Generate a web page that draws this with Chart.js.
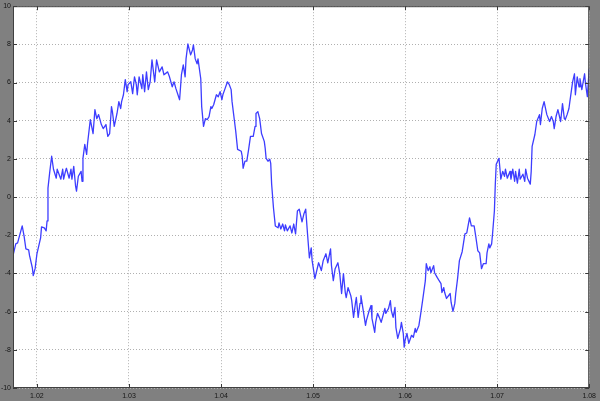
<!DOCTYPE html>
<html>
<head>
<meta charset="utf-8">
<script src="https://cdn.jsdelivr.net/npm/chart.js@4.4.0/dist/chart.umd.min.js"></script>
<style>
  html, body { margin: 0; padding: 0; background: #808080; }
  canvas { display: block; }
</style>
</head>
<body>
<canvas id="scope" width="600" height="401"></canvas>
<script>
// time (s) and signal samples
const time = [
  1.0174, 1.0177, 1.0179, 1.0184, 1.0186, 1.0188, 1.0191, 1.0192, 1.0195, 1.0196,
  1.0198, 1.0200, 1.0202, 1.0204, 1.0205, 1.0208, 1.0210, 1.0211, 1.0212, 1.0214,
  1.0216, 1.0218, 1.0221, 1.0222, 1.0224, 1.0226, 1.0228, 1.0229, 1.0231, 1.0232,
  1.0235, 1.0237, 1.0238, 1.0240, 1.0242, 1.0243, 1.0245, 1.0248, 1.0249, 1.0250,
  1.0252, 1.0254, 1.0255, 1.0258, 1.0261, 1.0263, 1.0265, 1.0267, 1.0270, 1.0272,
  1.0275, 1.0277, 1.0279, 1.0281, 1.0282, 1.0284, 1.0287, 1.0289, 1.0291, 1.0292,
  1.0294, 1.0296, 1.0298, 1.0299, 1.0302, 1.0304, 1.0306, 1.0308, 1.0309, 1.0311,
  1.0314, 1.0315, 1.0317, 1.0319, 1.0321, 1.0323, 1.0325, 1.0328, 1.0330, 1.0333,
  1.0336, 1.0338, 1.0342, 1.0344, 1.0347, 1.0349, 1.0351, 1.0355, 1.0357, 1.0359,
  1.0361, 1.0362, 1.0364, 1.0367, 1.0369, 1.0370, 1.0372, 1.0374, 1.0375, 1.0378,
  1.0379, 1.0381, 1.0383, 1.0385, 1.0387, 1.0389, 1.0390, 1.0392, 1.0395, 1.0397,
  1.0399, 1.0401, 1.0402, 1.0404, 1.0407, 1.0409, 1.0411, 1.0412, 1.0414, 1.0416,
  1.0418, 1.0422, 1.0423, 1.0424, 1.0426, 1.0428, 1.0430, 1.0432, 1.0435, 1.0437,
  1.0438, 1.0440, 1.0442, 1.0444, 1.0447, 1.0448, 1.0449, 1.0451, 1.0453, 1.0454,
  1.0455, 1.0457, 1.0459, 1.0462, 1.0463, 1.0465, 1.0467, 1.0469, 1.0470, 1.0472,
  1.0475, 1.0477, 1.0479, 1.0481, 1.0483, 1.0485, 1.0488, 1.0490, 1.0492, 1.0494,
  1.0496, 1.0498, 1.0499, 1.0502, 1.0504, 1.0506, 1.0508, 1.0509, 1.0511, 1.0514,
  1.0516, 1.0519, 1.0520, 1.0522, 1.0524, 1.0527, 1.0529, 1.0531, 1.0533, 1.0535,
  1.0536, 1.0538, 1.0541, 1.0542, 1.0544, 1.0546, 1.0547, 1.0549, 1.0551, 1.0552,
  1.0555, 1.0557, 1.0558, 1.0561, 1.0563, 1.0564, 1.0567, 1.0568, 1.0570, 1.0572,
  1.0574, 1.0576, 1.0578, 1.0579, 1.0582, 1.0584, 1.0585, 1.0587, 1.0589, 1.0590,
  1.0592, 1.0595, 1.0596, 1.0598, 1.0599, 1.0600, 1.0602, 1.0604, 1.0607, 1.0609,
  1.0611, 1.0612, 1.0615, 1.0617, 1.0619, 1.0622, 1.0623, 1.0625, 1.0627, 1.0628,
  1.0631, 1.0632, 1.0635, 1.0637, 1.0639, 1.0640, 1.0642, 1.0643, 1.0645, 1.0649,
  1.0650, 1.0652, 1.0654, 1.0655, 1.0657, 1.0659, 1.0662, 1.0665, 1.0667, 1.0669,
  1.0670, 1.0672, 1.0675, 1.0677, 1.0679, 1.0681, 1.0682, 1.0683, 1.0685, 1.0688,
  1.0689, 1.0691, 1.0692, 1.0694, 1.0695, 1.0697, 1.0698, 1.0699, 1.0702, 1.0703,
  1.0704, 1.0706, 1.0708, 1.0709, 1.0711, 1.0714, 1.0715, 1.0717, 1.0719, 1.0720,
  1.0722, 1.0724, 1.0725, 1.0728, 1.0730, 1.0731, 1.0733, 1.0736, 1.0737, 1.0738,
  1.0741, 1.0743, 1.0746, 1.0747, 1.0749, 1.0751, 1.0754, 1.0757, 1.0759, 1.0761,
  1.0762, 1.0764, 1.0766, 1.0769, 1.0771, 1.0773, 1.0774, 1.0776, 1.0778, 1.0779,
  1.0782, 1.0784, 1.0785, 1.0787, 1.0789, 1.0790, 1.0792, 1.0795, 1.0796, 1.0798,
  1.0800
];
const signal = [
  -3.07, -2.45, -2.40, -1.51, -2.03, -2.71, -2.76, -3.07, -3.70, -4.11,
  -3.75, -2.97, -2.55, -2.14, -1.56, -1.61, -1.77, -1.25, 0.47, 1.35,
  2.14, 1.46, 0.99, 1.46, 1.20, 0.94, 1.46, 0.94, 1.35, 1.51,
  0.99, 1.46, 0.94, 1.61, 0.57, 0.31, 1.09, 1.35, 0.83, 2.03,
  2.76, 2.24, 2.81, 4.06, 3.33, 4.58, 4.11, 4.32, 3.80, 3.59,
  3.80, 3.18, 3.33, 4.74, 4.48, 3.70, 4.38, 5.00, 4.64, 5.00,
  5.36, 6.15, 5.52, 5.89, 6.04, 5.42, 6.30, 5.89, 5.36, 6.30,
  5.68, 6.41, 5.52, 6.56, 5.63, 6.04, 7.19, 6.04, 7.19, 6.56,
  6.82, 6.41, 6.56, 6.30, 5.78, 6.04, 5.68, 5.10, 6.41, 6.93,
  6.30, 7.24, 8.02, 7.45, 7.71, 7.97, 7.24, 6.98, 7.24, 6.20,
  4.74, 3.70, 4.11, 4.06, 4.22, 4.74, 4.64, 4.84, 5.36, 5.26,
  5.52, 5.10, 5.36, 5.63, 6.04, 5.89, 5.63, 5.00, 4.22, 3.44,
  2.50, 2.40, 2.14, 1.51, 1.88, 1.88, 2.50, 3.18, 3.18, 3.70,
  4.38, 4.48, 4.11, 3.33, 2.92, 2.55, 2.03, 1.88, 1.98, 1.77,
  0.68, -0.57, -1.51, -1.61, -1.35, -1.67, -1.41, -1.77, -1.46, -1.77,
  -1.51, -1.88, -1.41, -1.93, -0.73, -0.63, -1.30, -0.89, -0.63, -1.93,
  -3.18, -2.66, -3.33, -4.27, -3.85, -3.44, -3.70, -3.85, -3.33, -2.97,
  -3.44, -2.71, -3.59, -4.38, -3.75, -3.44, -4.01, -5.05, -4.01, -5.00,
  -5.26, -4.74, -5.16, -5.42, -6.30, -5.57, -5.26, -6.30, -5.57, -5.16,
  -6.09, -6.72, -6.46, -5.94, -5.68, -6.35, -7.08, -6.56, -6.09, -6.30,
  -6.56, -6.20, -5.83, -6.09, -5.83, -5.42, -5.94, -6.30, -5.78, -6.82,
  -7.40, -6.88, -6.56, -7.14, -7.86, -7.50, -7.14, -7.66, -7.24, -7.34,
  -6.88, -7.08, -6.72, -6.09, -5.42, -4.38, -3.49, -3.85, -3.65, -3.96,
  -3.59, -3.96, -4.22, -4.38, -4.53, -5.00, -4.74, -5.00, -5.31, -5.05,
  -5.52, -5.99, -5.57, -5.05, -4.27, -3.33, -2.86, -1.93, -1.88, -1.35,
  -1.09, -1.51, -1.51, -2.14, -2.81, -2.92, -3.33, -3.75, -3.49, -3.49,
  -2.92, -2.45, -2.66, -2.45, -1.93, -0.73, 0.68, 1.72, 2.03, 1.51,
  0.94, 1.35, 1.09, 1.46, 0.99, 1.35, 0.94, 1.46, 0.83, 1.35,
  0.73, 1.46, 0.94, 1.20, 0.83, 1.46, 0.99, 0.68, 1.35, 2.66,
  3.28, 3.96, 4.32, 3.80, 4.64, 5.00, 4.32, 3.96, 4.22, 3.96,
  3.59, 4.22, 4.58, 3.96, 4.90, 4.11, 4.06, 4.32, 4.64, 5.00,
  6.04, 6.46, 5.36, 6.30, 5.78, 6.20, 5.63, 6.46, 5.94, 5.26,
  6.72
];
const xTicks = [1.02, 1.03, 1.04, 1.05, 1.06, 1.07, 1.08];
const yTicks = [-10, -8, -6, -4, -2, 0, 2, 4, 6, 8, 10];

const points = time.map((t, i) => ({ x: t, y: signal[i] }));

// white plot area + frame + inward tick marks like the scope window
const scopeFrame = {
    id: 'scopeFrame',
    beforeDraw(chart) {
        const a = chart.chartArea;
        const ctx = chart.ctx;
        ctx.save();
        ctx.fillStyle = '#ffffff';
        ctx.fillRect(a.left, a.top, a.right - a.left, a.bottom - a.top);
        ctx.restore();
    },
    afterDatasetsDraw(chart) {
        const a = chart.chartArea;
        const ctx = chart.ctx;
        const xs = chart.scales.x, ys = chart.scales.y;
        ctx.save();
        ctx.strokeStyle = '#3a3a3a';
        ctx.lineWidth = 1;
        ctx.beginPath();
        xTicks.forEach(v => {
            const px = Math.round(xs.getPixelForValue(v)) + 0.5;
            ctx.moveTo(px, a.bottom); ctx.lineTo(px, a.bottom - 4);
            ctx.moveTo(px, a.top); ctx.lineTo(px, a.top + 4);
        });
        yTicks.forEach(v => {
            const py = Math.round(ys.getPixelForValue(v)) + 0.5;
            ctx.moveTo(a.left, py); ctx.lineTo(a.left + 4, py);
            ctx.moveTo(a.right, py); ctx.lineTo(a.right - 4, py);
        });
        ctx.stroke();
        ctx.strokeStyle = '#404040';
        ctx.strokeRect(a.left + 0.5, a.top + 0.5, a.right - a.left - 1, a.bottom - a.top - 1);
        ctx.restore();
    }
};

const tickFont = { family: 'Liberation Sans, Arial, sans-serif', size: 7 };

new Chart(document.getElementById('scope').getContext('2d'), {
    type: 'line',
    data: {
        datasets: [{
            data: points,
            borderColor: '#3d3dff',
            borderWidth: 1.3,
            borderJoinStyle: 'round',
            pointRadius: 0,
            tension: 0,
            fill: false
        }]
    },
    options: {
        responsive: false,
        animation: false,
        layout: { padding: { top: 4, right: 8, left: 0, bottom: 0 } },
        plugins: { legend: { display: false }, tooltip: { enabled: false } },
        scales: {
            x: {
                type: 'linear',
                min: 1.0174,
                max: 1.08,
                afterBuildTicks: s => { s.ticks = xTicks.map(v => ({ value: v })); },
                afterFit: s => { s.height = 13; },
                grid: { color: '#b0b0b0', lineWidth: 1, drawTicks: false },
                border: { display: false, dash: [1, 2] },
                ticks: {
                    font: tickFont,
                    color: '#151515',
                    padding: 4,
                    maxRotation: 0,
                    autoSkip: false,
                    callback: v => v.toFixed(2)
                }
            },
            y: {
                min: -10,
                max: 10,
                afterBuildTicks: s => { s.ticks = yTicks.map(v => ({ value: v })); },
                afterFit: s => { s.width = 13; },
                grid: { color: '#b0b0b0', lineWidth: 1, drawTicks: false },
                border: { display: false, dash: [1, 2] },
                ticks: {
                    font: tickFont,
                    color: '#151515',
                    padding: 2,
                    autoSkip: false,
                    callback: v => String(v)
                }
            }
        }
    },
    plugins: [scopeFrame]
});
</script>
</body>
</html>
